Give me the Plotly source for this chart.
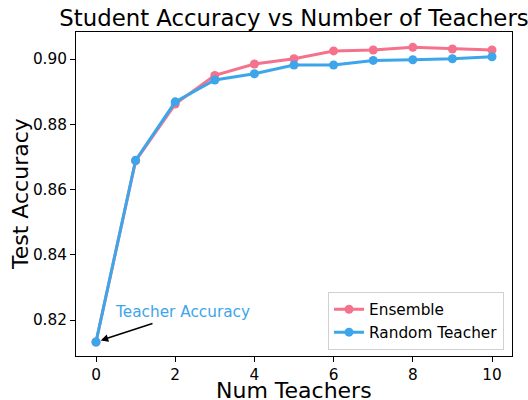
import plotly.graph_objects as go

num_teachers = [0, 1, 2, 3, 4, 5, 6, 7, 8, 9, 10]
ensemble = [0.8133, 0.8688, 0.8862, 0.8950, 0.8985, 0.9001, 0.9025, 0.9028, 0.9036, 0.9031, 0.9028]
random_teacher = [0.8133, 0.8690, 0.8869, 0.8936, 0.8955, 0.8982, 0.8982, 0.8996, 0.8998, 0.9001, 0.9007]
x_ticks = [0, 2, 4, 6, 8, 10]
y_ticks = [0.82, 0.84, 0.86, 0.88, 0.90]
teacher_acc = 0.8133

PINK = "#f5728c"
BLUE = "#3da5ea"
FONT = "DejaVu Sans"

fig = go.Figure()
fig.add_trace(go.Scatter(x=num_teachers, y=ensemble, mode="lines+markers", name="Ensemble",
                         line=dict(color=PINK, width=3), marker=dict(size=9, color=PINK)))
fig.add_trace(go.Scatter(x=num_teachers, y=random_teacher, mode="lines+markers", name="Random Teacher",
                         line=dict(color=BLUE, width=3), marker=dict(size=9, color=BLUE)))

fig.add_annotation(x=0.42, y=0.8225, xref="x", yref="y", text="Teacher Accuracy", showarrow=False,
                   xanchor="left", yanchor="middle", font=dict(family=FONT, size=15.3, color=BLUE))
fig.add_annotation(x=0, y=teacher_acc, xref="x", yref="y", text="", showarrow=True,
                   ax=58, ay=-19, axref="pixel", ayref="pixel", arrowhead=2, arrowsize=1,
                   arrowwidth=1.5, arrowcolor="black", standoff=5)

# axis titles
fig.add_annotation(x=0.5, y=-0.108, xref="paper", yref="paper", text="Num Teachers", showarrow=False,
                   xanchor="center", yanchor="middle", font=dict(family=FONT, size=22, color="black"))
fig.add_annotation(x=-0.1285, y=0.5, xref="paper", yref="paper", text="Test Accuracy", showarrow=False,
                   textangle=-90, xanchor="center", yanchor="middle",
                   font=dict(family=FONT, size=22, color="black"))

axis_common = dict(showline=True, linecolor="black", linewidth=1, mirror=True, ticks="outside",
                   ticklen=5, tickwidth=1, tickcolor="black", showgrid=False, zeroline=False,
                   automargin=False,
                   tickfont=dict(family=FONT, size=15.3, color="black"))

fig.update_xaxes(range=[-0.505, 10.505], tickvals=x_ticks, **axis_common)
fig.update_yaxes(range=[0.809, 0.9083], tickvals=y_ticks, tickformat=".2f", **axis_common)

fig.update_layout(
    width=528, height=400,
    margin=dict(l=76, r=16, t=32, b=44),
    paper_bgcolor="white", plot_bgcolor="white",
    title=dict(text="Student Accuracy vs Number of Teachers", x=0.5, xref="paper", y=0.955,
               yref="container", xanchor="center", yanchor="middle",
               font=dict(family=FONT, size=22.8, color="black")),
    legend=dict(x=0.9817, y=0.019, xanchor="right", yanchor="bottom",
                bgcolor="rgba(255,255,255,0.8)", bordercolor="#d0d0d0", borderwidth=1,
                font=dict(family=FONT, size=15.3, color="black")),
    showlegend=True,
)

fig.write_html("out.html", config={"displayModeBar": False},
               post_script="document.body.style.margin='0';document.body.style.padding='0';")
